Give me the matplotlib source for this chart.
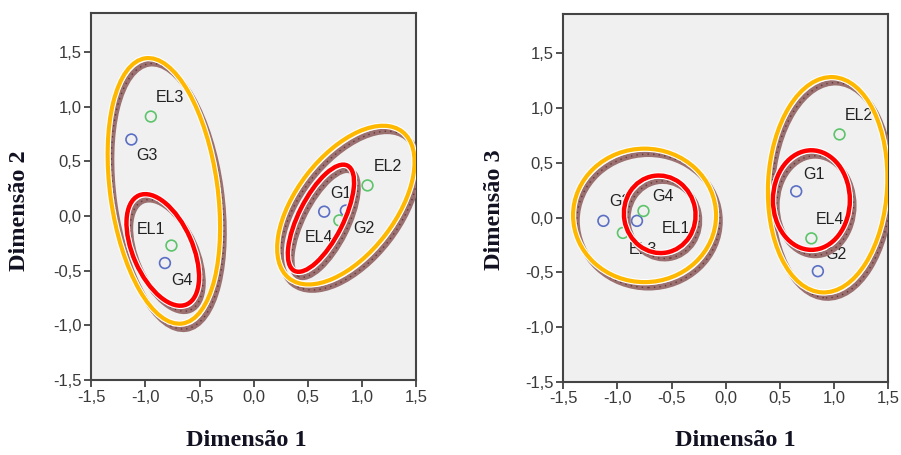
import matplotlib
matplotlib.use('Agg')
import matplotlib.pyplot as plt
from matplotlib.patches import Ellipse

# coordinates
g_names = ['G1', 'G2', 'G3', 'G4']
el_names = ['EL1', 'EL2', 'EL3', 'EL4']
g_dim1 = [0.65, 0.85, -1.13, -0.82]
g_dim2 = [0.04, 0.05, 0.70, -0.43]
g_dim3 = [0.24, -0.49, -0.03, -0.03]
el_dim1 = [-0.76, 1.05, -0.95, 0.79]
el_dim2 = [-0.27, 0.28, 0.91, -0.04]
el_dim3 = [0.06, 0.76, -0.14, -0.19]

ticks = [-1.5, -1.0, -0.5, 0.0, 0.5, 1.0, 1.5]
tick_labels = ['-1,5', '-1,0', '-0,5', '0,0', '0,5', '1,0', '1,5']

# hand drawn groupings: (x, y, width, height, angle)
yellow_12 = [(-0.83, 0.23, 0.99, 2.45, 8), (0.85, 0.10, 0.91, 1.70, -38)]
red_12 = [(-0.84, -0.31, 0.55, 1.09, 24), (0.62, -0.02, 0.41, 1.08, -27)]
yellow_13 = [(-0.75, 0.02, 1.32, 1.22, 0), (0.94, 0.30, 1.10, 1.97, -3)]
red_13 = [(-0.61, 0.03, 0.66, 0.71, 10), (0.79, 0.16, 0.71, 0.91, 0)]

# label offsets in pixels (right, up)
off_12 = {'G1': (17, 18), 'G2': (18, -18), 'G3': (16, -16), 'G4': (17, -17),
          'EL1': (-20, 16), 'EL2': (20, 19), 'EL3': (19, 19), 'EL4': (-20, -17)}
off_13 = {'G1': (18, 17), 'G2': (18, 17), 'G3': (17, 19), 'G4': (26, 24),
          'EL1': (32, -17), 'EL2': (19, 19), 'EL3': (20, -17), 'EL4': (19, 19)}

blue = '#5b6fc4'
green = '#5cc46a'


def draw_ring(ax, e, color, lw):
    x, y, w, h, a = e
    # brownish shadow band, shifted right/down
    ax.add_patch(Ellipse((x + 0.035, y - 0.05), w, h, angle=a, fill=False,
                         ec='#9a7070', lw=4.2, zorder=4))
    ax.add_patch(Ellipse((x + 0.035, y - 0.05), w, h, angle=a, fill=False,
                         ec='#6a3838', lw=1.0, ls=(0, (1, 3)), zorder=4))
    ax.add_patch(Ellipse((x, y), w, h, angle=a, fill=False,
                         ec='white', lw=lw + 1.6, zorder=5))
    ax.add_patch(Ellipse((x, y), w, h, angle=a, fill=False,
                         ec=color, lw=lw, zorder=6))


def panel(ax, gy, ely, offs, yellows, reds):
    ax.set_facecolor('#f0f0f0')
    ax.scatter(g_dim1, gy, s=60, facecolors='none', edgecolors=blue, linewidths=1.2, zorder=3)
    ax.scatter(el_dim1, ely, s=60, facecolors='none', edgecolors=green, linewidths=1.2, zorder=3)
    for n, x, y in zip(g_names + el_names, g_dim1 + el_dim1, gy + ely):
        ax.annotate(n, (x, y), xytext=offs[n], textcoords='offset pixels',
                    ha='center', va='center', fontsize=11.5, color='#222222',
                    family='Liberation Sans', zorder=3)
    for e in yellows:
        draw_ring(ax, e, '#ffb800', 3.0)
    for e in reds:
        draw_ring(ax, e, '#ff0000', 3.2)
    ax.set_xlim(-1.5, 1.5)
    ax.set_ylim(-1.5, 1.86)
    ax.set_xticks(ticks)
    ax.set_xticklabels(tick_labels)
    ax.set_yticks(ticks)
    ax.set_yticklabels(tick_labels)
    ax.tick_params(direction='out', length=5, width=1.2, color='#333333',
                   labelsize=12, labelcolor='#3a3a3a', pad=2)
    for lbl in ax.get_xticklabels() + ax.get_yticklabels():
        lbl.set_family('Liberation Sans')
    for sp in ax.spines.values():
        sp.set_color('#444444')
        sp.set_linewidth(1.5)


fig = plt.figure(figsize=(9.01, 4.55), dpi=100)
ax1 = fig.add_axes([0.1013, 0.1648, 0.3607, 0.8073])
ax2 = fig.add_axes([0.6252, 0.1611, 0.3607, 0.808])
panel(ax1, g_dim2, el_dim2, off_12, yellow_12, red_12)
panel(ax2, g_dim3, el_dim3, off_13, yellow_13, red_13)

lab = dict(family='Liberation Serif', fontweight='bold', fontsize=17.5, color='#111122',
           ha='center', va='center')
fig.text(246.7 / 901, 1 - 441 / 455, 'Dimensão 1', **lab)
fig.text(735.8 / 901, 1 - 441 / 455, 'Dimensão 1', **lab)
fig.text(20 / 901, 1 - 211 / 455, 'Dimensão 2', rotation=90, **lab)
fig.text(495 / 901, 1 - 210 / 455, 'Dimensão 3', rotation=90, **lab)

fig.savefig('out.png', dpi=100)
